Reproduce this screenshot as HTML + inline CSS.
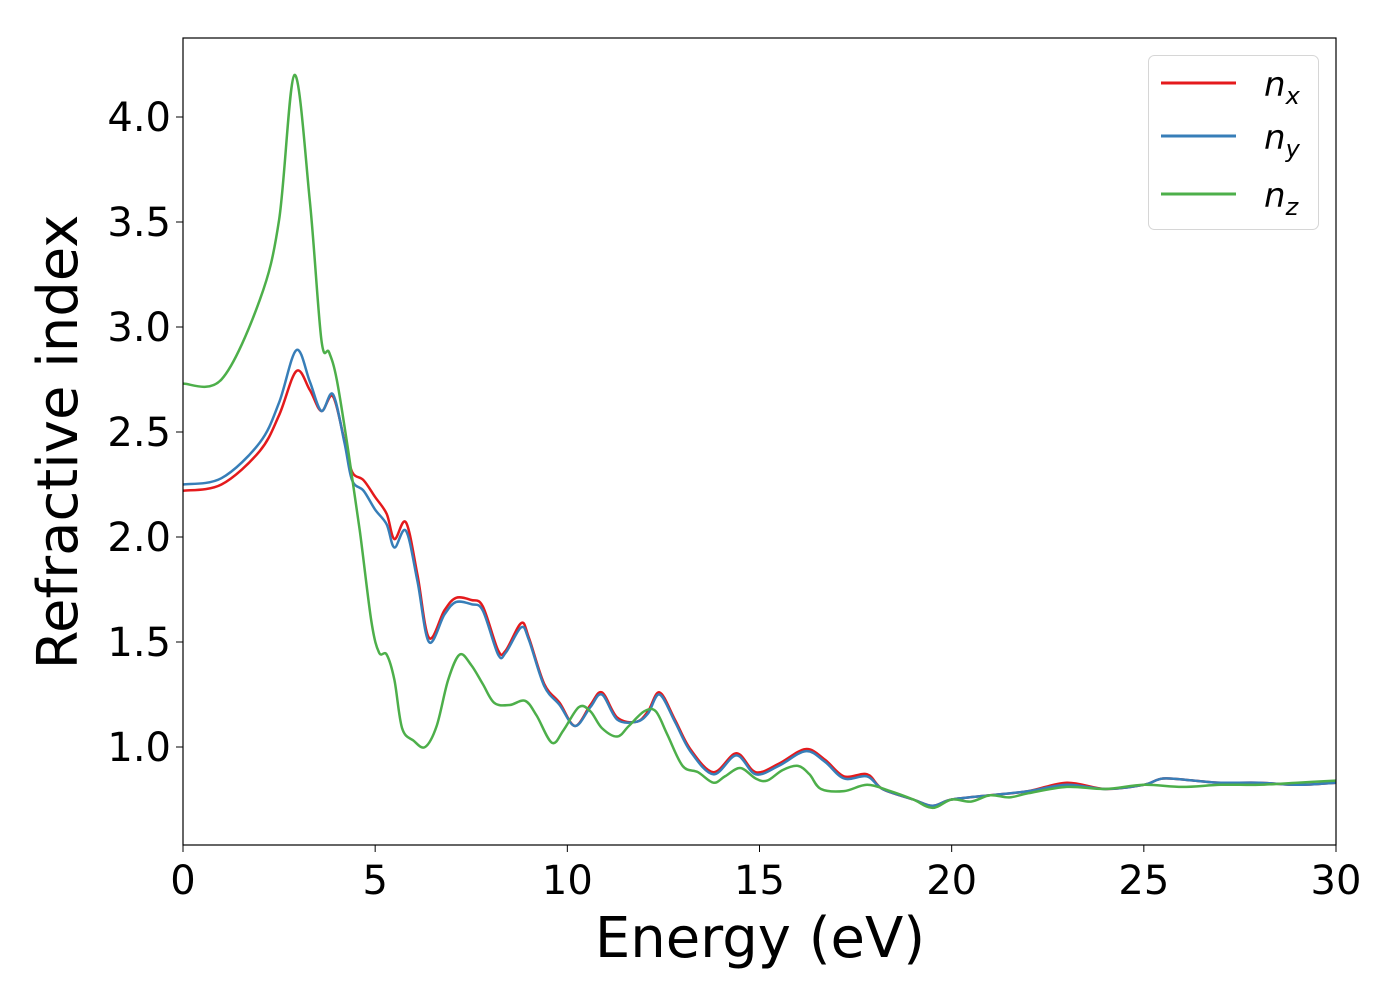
<!DOCTYPE html>
<html><head><meta charset="utf-8"><style>
body{margin:0;background:#fff;}
svg text{font-family:"DejaVu Sans","Liberation Sans",sans-serif;fill:#000;}
</style></head><body>
<svg id="chart" width="1400" height="1000" xmlns="http://www.w3.org/2000/svg">
<rect width="1400" height="1000" fill="#fff"/>
<g id="plot"></g>
<g id="axes"></g>
<text x="760" y="957" font-size="56" text-anchor="middle">Energy (eV)</text>
<text transform="translate(77,442) rotate(-90)" font-size="56" text-anchor="middle">Refractive index</text>
<g>
<rect x="1148.5" y="55.5" width="170" height="174" rx="6" fill="#fff" fill-opacity="0.8" stroke="#d6d6d6"/>
<g><line x1="1161" x2="1236" y1="83" y2="83" stroke="#e41a1c" stroke-width="3"/><text x="1264" y="96" font-size="34" font-style="italic">n<tspan font-size="24" dy="8">x</tspan></text></g>
<g><line x1="1161" x2="1236" y1="136" y2="136" stroke="#377eb8" stroke-width="3"/><text x="1264" y="149" font-size="34" font-style="italic">n<tspan font-size="24" dy="8">y</tspan></text></g>
<g><line x1="1161" x2="1236" y1="194" y2="194" stroke="#4daf4a" stroke-width="3"/><text x="1264" y="207" font-size="34" font-style="italic">n<tspan font-size="24" dy="8">z</tspan></text></g>
</g>
</svg>
<script>
const xTicks=[0,5,10,15,20,25,30];
const yTicks=[1.0,1.5,2.0,2.5,3.0,3.5,4.0];
const nzE=[0,1,2,2.5,2.9,3.3,3.6,3.8,4.0,4.3,4.6,4.9,5.1,5.3,5.5,5.7,6.0,6.3,6.6,6.9,7.2,7.5,7.8,8.1,8.5,8.9,9.2,9.6,9.9,10.3,10.6,10.9,11.3,11.6,12.0,12.3,12.6,13.0,13.4,13.8,14.1,14.5,14.9,15.2,15.6,16.0,16.3,16.6,17.2,17.8,18.4,19.0,19.5,20,20.5,21,21.5,22,23,24,25,26,27,28,29,30];
const nzV=[2.73,2.75,3.13,3.51,4.2,3.6,2.94,2.88,2.75,2.41,2.03,1.6,1.45,1.44,1.32,1.09,1.03,1.0,1.1,1.32,1.44,1.39,1.3,1.21,1.2,1.22,1.15,1.02,1.08,1.19,1.17,1.09,1.05,1.1,1.17,1.17,1.06,0.91,0.88,0.83,0.86,0.9,0.85,0.84,0.89,0.91,0.87,0.8,0.79,0.82,0.79,0.75,0.71,0.75,0.74,0.77,0.76,0.78,0.81,0.8,0.82,0.81,0.82,0.82,0.83,0.84];
const nxE=[0,1,2,2.5,2.95,3.3,3.6,3.9,4.2,4.4,4.7,5.0,5.3,5.5,5.8,6.1,6.4,6.8,7.1,7.5,7.8,8.2,8.4,8.8,9.0,9.4,9.8,10.2,10.6,10.9,11.3,11.8,12.1,12.4,12.8,13.2,13.8,14.4,14.9,15.5,16.2,16.7,17.2,17.8,18.2,19.0,19.5,20,21,22,23,24,25,25.5,26.3,27,28,29,30];
const nxV=[2.22,2.25,2.41,2.58,2.79,2.7,2.6,2.67,2.46,2.31,2.27,2.19,2.11,1.99,2.07,1.82,1.52,1.65,1.71,1.7,1.67,1.46,1.46,1.59,1.52,1.3,1.21,1.1,1.2,1.26,1.14,1.12,1.17,1.26,1.13,0.99,0.88,0.97,0.88,0.92,0.99,0.94,0.86,0.87,0.8,0.75,0.72,0.75,0.77,0.79,0.83,0.8,0.82,0.85,0.84,0.83,0.83,0.82,0.83];
const nyV=[2.25,2.28,2.45,2.64,2.89,2.74,2.6,2.68,2.45,2.27,2.22,2.13,2.06,1.95,2.03,1.79,1.5,1.63,1.69,1.68,1.65,1.44,1.45,1.57,1.51,1.29,1.2,1.1,1.19,1.25,1.13,1.12,1.16,1.25,1.12,0.98,0.87,0.96,0.87,0.91,0.98,0.93,0.85,0.86,0.8,0.75,0.72,0.75,0.77,0.79,0.82,0.8,0.82,0.85,0.84,0.83,0.83,0.82,0.83];
const X0=183,X1=1336,Y0=38,Y1=845;
function sx(e){return X0+(e-0)/(30-0)*(X1-X0);}
function sy(v){return 747-(v-1.0)*210;}
const NS="http://www.w3.org/2000/svg";
function pathFrom(E,V){
  const p=E.map((e,i)=>[sx(e),sy(V[i])]);
  let d="M"+p[0][0]+","+p[0][1];
  for(let i=0;i<p.length-1;i++){
    const a=p[Math.max(0,i-1)],b=p[i],c=p[i+1],dd=p[Math.min(p.length-1,i+2)];
    const c1=[b[0]+(c[0]-a[0])/6,b[1]+(c[1]-a[1])/6],c2=[c[0]-(dd[0]-b[0])/6,c[1]-(dd[1]-b[1])/6];
    d+=" C"+c1+" "+c2+" "+c;
  }
  return d;
}
const plot=document.getElementById('plot');
const clip=document.createElementNS(NS,'clipPath');clip.id='cp';
const cr=document.createElementNS(NS,'rect');cr.setAttribute('x',X0);cr.setAttribute('y',Y0);cr.setAttribute('width',X1-X0);cr.setAttribute('height',Y1-Y0);
clip.appendChild(cr);plot.appendChild(clip);
[[nxE,nxV,'#e41a1c','series-nx'],[nxE,nyV,'#377eb8','series-ny'],[nzE,nzV,'#4daf4a','series-nz']].forEach(s=>{
  const el=document.createElementNS(NS,'path');
  el.setAttribute('d',pathFrom(s[0],s[1]));el.setAttribute('fill','none');el.setAttribute('stroke',s[2]);el.setAttribute('stroke-width','2.5');el.setAttribute('clip-path','url(#cp)');
  
  
  plot.appendChild(el);
});
const ax=document.getElementById('axes');
const fr=document.createElementNS(NS,'rect');
fr.setAttribute('x',X0);fr.setAttribute('y',Y0);fr.setAttribute('width',X1-X0);fr.setAttribute('height',Y1-Y0);fr.setAttribute('fill','none');fr.setAttribute('stroke','#000');fr.setAttribute('stroke-width','1.2');


ax.appendChild(fr);
xTicks.forEach(t=>{
  const l=document.createElementNS(NS,'line');l.setAttribute('x1',sx(t));l.setAttribute('x2',sx(t));l.setAttribute('y1',Y1);l.setAttribute('y2',Y1+7);l.setAttribute('stroke','#000');
  
  
  ax.appendChild(l);
  const tx=document.createElementNS(NS,'text');tx.setAttribute('x',sx(t));tx.setAttribute('y',894);tx.setAttribute('font-size','40');tx.setAttribute('text-anchor','middle');tx.textContent=t;
  
  
  ax.appendChild(tx);
});
yTicks.forEach(t=>{
  const l=document.createElementNS(NS,'line');l.setAttribute('x1',X0-7);l.setAttribute('x2',X0);l.setAttribute('y1',sy(t));l.setAttribute('y2',sy(t));l.setAttribute('stroke','#000');
  
  
  ax.appendChild(l);
  const tx=document.createElementNS(NS,'text');tx.setAttribute('x',X0-12);tx.setAttribute('y',sy(t)+14);tx.setAttribute('font-size','40');tx.setAttribute('text-anchor','end');tx.textContent=t.toFixed(1);
  
  
  ax.appendChild(tx);
});
</script>
</body></html>
